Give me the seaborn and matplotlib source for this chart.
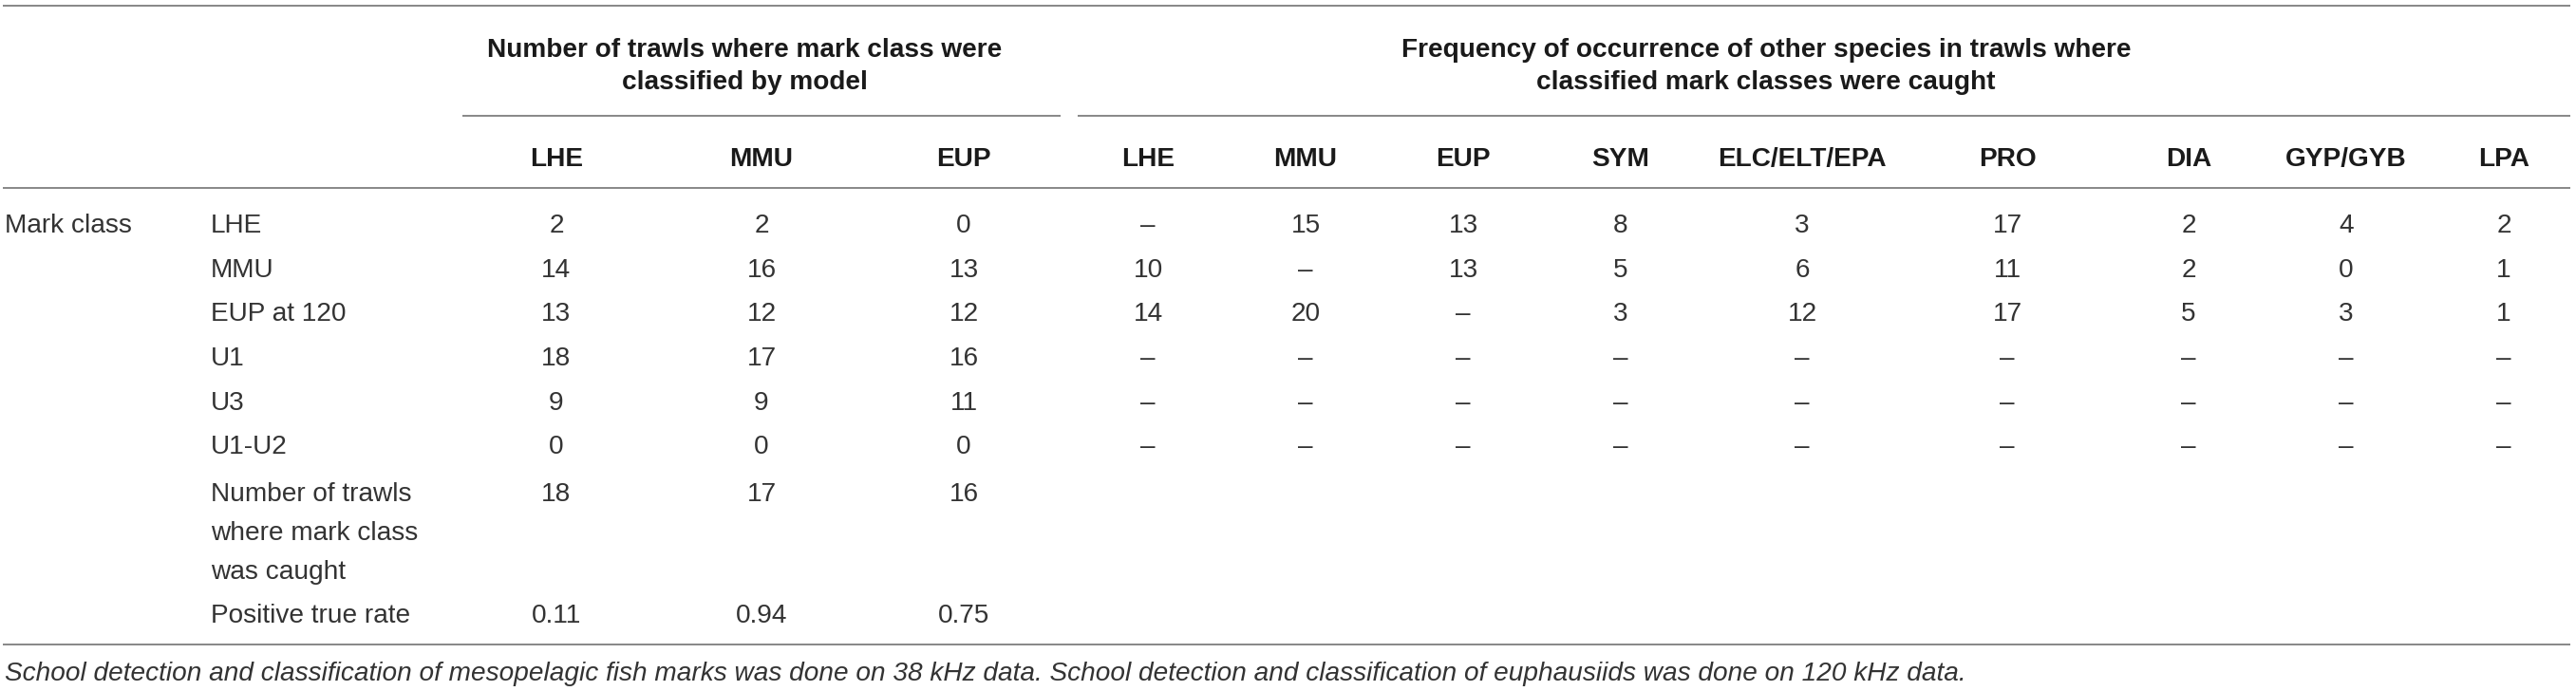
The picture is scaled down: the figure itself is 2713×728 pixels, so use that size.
import matplotlib
matplotlib.use("Agg")
import matplotlib.pyplot as plt
import seaborn as sns

# ---------------- data ----------------
row_labels = ["LHE", "MMU", "EUP at 120", "U1", "U3", "U1-U2",
              "Number of trawls\nwhere mark class\nwas caught", "Positive true rate"]
stub_label = "Mark class"

model_group_title = "Number of trawls where mark class were\nclassified by model"
model_cols = ["LHE", "MMU", "EUP"]
model_LHE = ["2", "14", "13", "18", "9", "0", "18", "0.11"]
model_MMU = ["2", "16", "12", "17", "9", "0", "17", "0.94"]
model_EUP = ["0", "13", "12", "16", "11", "0", "16", "0.75"]

freq_group_title = "Frequency of occurrence of other species in trawls where\nclassified mark classes were caught"
freq_cols = ["LHE", "MMU", "EUP", "SYM", "ELC/ELT/EPA", "PRO", "DIA", "GYP/GYB", "LPA"]
freq_LHE = ["–", "10", "14", "–", "–", "–"]
freq_MMU = ["15", "–", "20", "–", "–", "–"]
freq_EUP = ["13", "13", "–", "–", "–", "–"]
freq_SYM = ["8", "5", "3", "–", "–", "–"]
freq_ELC = ["3", "6", "12", "–", "–", "–"]
freq_PRO = ["17", "11", "17", "–", "–", "–"]
freq_DIA = ["2", "2", "5", "–", "–", "–"]
freq_GYP = ["4", "0", "3", "–", "–", "–"]
freq_LPA = ["2", "1", "1", "–", "–", "–"]

footnote = ("School detection and classification of mesopelagic fish marks was done on 38 kHz data. "
            "School detection and classification of euphausiids was done on 120 kHz data.")

# ---------------- layout ----------------
W, H, DPI = 2713, 728, 100
sns.set_theme(style="white")
plt.rcParams["font.family"] = ["Liberation Sans", "DejaVu Sans"]

fig = plt.figure(figsize=(W / DPI, H / DPI), dpi=DPI)
ax = fig.add_axes([0, 0, 1, 1])
ax.set_xlim(0, W)
ax.set_ylim(H, 0)
ax.axis("off")
sns.despine(ax=ax, left=True, bottom=True)

FS = 28 * 72 / DPI          # 28 px em
CAP = 10                    # half cap height in px
BODY = "#333333"
HEAD = "#1a1a1a"
RULE = "#8a8a8a"
LW = 2 * 72 / DPI


def txt(x, yc, s, ha="center", weight="normal", color=BODY, style="normal"):
    ax.text(x, yc + CAP, s, ha=ha, va="baseline", fontsize=FS,
            fontweight=weight, color=color, fontstyle=style)


# rules
ax.hlines(6, 3, 2707, color=RULE, lw=LW)
ax.hlines(122, 487, 1117, color=RULE, lw=LW)
ax.hlines(122, 1135, 2707, color=RULE, lw=LW)
ax.hlines(198, 3, 2707, color=RULE, lw=LW)
ax.hlines(679, 3, 2707, color=RULE, lw=LW)

# group headers
for title, xc in [(model_group_title, 784), (freq_group_title, 1860)]:
    for i, line in enumerate(title.split("\n")):
        txt(xc, 50 + 34 * i, line, weight="bold", color=HEAD)

# column headers
model_x = [586, 802, 1015]
freq_x = [1209, 1375, 1541, 1707, 1898, 2114, 2305, 2471, 2637]
for c, x in zip(model_cols, model_x):
    txt(x, 165, c, weight="bold", color=HEAD)
for c, x in zip(freq_cols, freq_x):
    txt(x, 165, c, weight="bold", color=HEAD)

# body
row_y = [235, 282, 328, 375, 422, 468, 518, 646]
txt(5, row_y[0], stub_label, ha="left")
for lab, y in zip(row_labels, row_y):
    for i, line in enumerate(lab.split("\n")):
        txt(222, y + 41 * i, line, ha="left")

for col, x in zip([model_LHE, model_MMU, model_EUP], model_x):
    for v, y in zip(col, row_y):
        txt(x, y, v)

freq_data = [freq_LHE, freq_MMU, freq_EUP, freq_SYM, freq_ELC, freq_PRO, freq_DIA, freq_GYP, freq_LPA]
for col, x in zip(freq_data, freq_x):
    for v, y in zip(col, row_y):
        txt(x, y, v)

txt(5, 707, footnote, ha="left", style="italic")

fig.savefig("out.png", dpi=DPI, facecolor="white")
